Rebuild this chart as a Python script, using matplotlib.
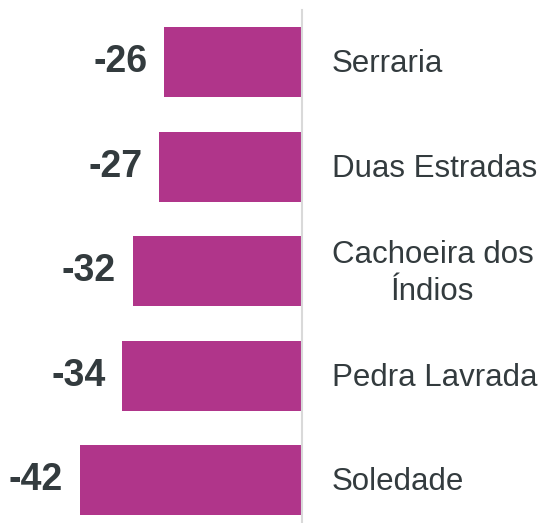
import matplotlib.pyplot as plt

plt.rcParams['font.family'] = ['Liberation Sans', 'DejaVu Sans']

places = ['Serraria', 'Duas Estradas', 'Cachoeira dos\nÍndios', 'Pedra Lavrada', 'Soledade']
values = [-26, -27, -32, -34, -42]

bar_color = '#B0358A'
text_color = '#333B3E'

fig = plt.figure(figsize=(5.44, 5.23), dpi=100)
ax = fig.add_axes([0, 0, 302 / 544, 1])

ypos = list(range(len(places)))
ax.barh(ypos, values, height=0.67, color=bar_color)

for y, v, name in zip(ypos, values, places):
    ax.annotate(str(v), xy=(v, y), xytext=(-12, 0), textcoords='offset points',
                ha='right', va='center', fontsize=27, fontweight='bold', color=text_color)
    ax.annotate(name, xy=(0, y), xytext=(21.5, -1.5), textcoords='offset points',
                ha='left', va='center', multialignment='center', linespacing=1.3,
                fontsize=22.5, color=text_color, annotation_clip=False)

ax.axvline(0, ymin=0, ymax=0.981, color='#d9d9d9', linewidth=1.5, clip_on=False)

ax.set_xlim(-57.1, 0)
ax.set_ylim(4.41, -0.593)
ax.axis('off')

fig.savefig('out.png', dpi=100)
